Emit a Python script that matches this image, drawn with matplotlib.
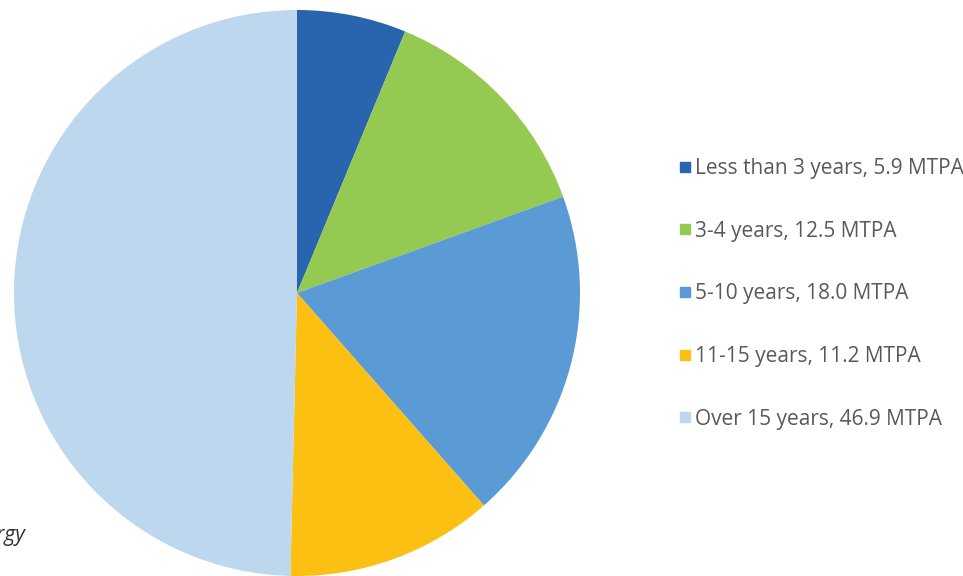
import matplotlib.pyplot as plt
from matplotlib.lines import Line2D

# Contract duration categories and volumes (MTPA)
categorias = ['Less than 3 years', '3-4 years', '5-10 years', '11-15 years', 'Over 15 years']
valores = [5.9, 12.5, 18.0, 11.2, 46.9]
colores = ['#2964AE', '#94C952', '#5B9BD5', '#FBC012', '#BDD7EE']

plt.rcParams['font.family'] = ['Open Sans', 'DejaVu Sans']

fig = plt.figure(figsize=(9.63, 5.76), dpi=100)
W, H = 963, 576

# Pie axes: center (297, 293) px, radius 283 px
ax = fig.add_axes([14 / W, 0 / H, 566 / W, 566 / H])
wedges, _ = ax.pie(valores, colors=colores, startangle=90, counterclock=False,
                   radius=1, wedgeprops={'linewidth': 0})
ax.set_xlim(-1, 1)
ax.set_ylim(-1, 1)
ax.set_aspect('equal')
ax.axis('off')

# Legend to the right
etiquetas = [f'{c}, {v:.1f} MTPA' for c, v in zip(categorias, valores)]
handles = [Line2D([], [], marker='s', linestyle='', markersize=7,
                  markerfacecolor=col, markeredgecolor=col) for col in colores]
fig.legend(handles, etiquetas, loc='upper left', bbox_to_anchor=(679 / W, 1 - 158 / H),
           frameon=False, fontsize=15, labelcolor='#595959', handlelength=0.55,
           handletextpad=0.2, labelspacing=2.0, borderpad=0, borderaxespad=0)

# Clipped source note in the lower left corner
fig.text(25 / W, 1 - 536 / H, 'Source: Energy', ha='right', va='center',
         fontsize=15, style='italic', color='#333333')

fig.savefig('out.png', dpi=100)
